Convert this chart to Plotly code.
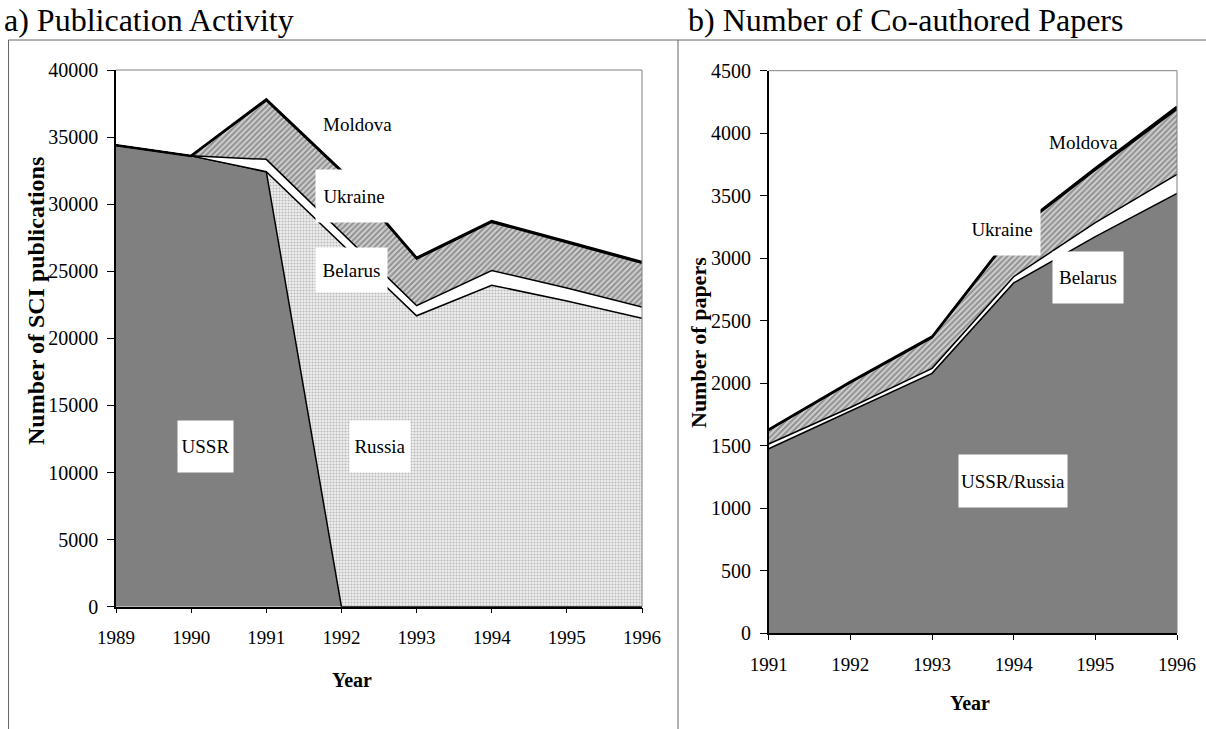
import plotly.graph_objects as go

W, H = 1206, 729

# ---- panel a) Publication Activity (stacked areas) ----
years_a = [1989, 1990, 1991, 1992, 1993, 1994, 1995, 1996]
ussr_a = [34400, 33600, 32420, 0, 0, 0, 0, 0]
russia_a = [0, 0, 0, 27060, 21680, 23960, 22790, 21500]
belarus_a = [0, 0, 920, 840, 760, 1100, 970, 830]
ukraine_a = [0, 0, 4370, 4500, 3460, 3580, 3360, 3260]
moldova_a = [0, 0, 100, 100, 100, 100, 100, 100]

# ---- panel b) Number of Co-authored Papers (stacked areas) ----
years_b = [1991, 1992, 1993, 1994, 1995, 1996]
russia_b = [1476, 1776, 2079, 2802, 3172, 3519]
belarus_b = [38, 30, 40, 50, 112, 152]
ukraine_b = [109, 197, 243, 349, 421, 521]
moldova_b = [5, 7, 10, 12, 15, 20]

FONT = "Liberation Serif"
GRAY = "#808080"

def px_x(p):
    return p / W

def px_y(p):
    return 1 - p / H

hatch = dict(shape="/", size=4, solidity=0.5, fgcolor="#505050", bgcolor="#d0d0d0")
dots = dict(shape=".", size=3, solidity=0.4, fgcolor="#858585", bgcolor="#efefef")

fig = go.Figure()

def add(x, y, group, xa, ya, fillcolor, pattern=None, lw=1.5, lc="black"):
    kw = dict(x=x, y=y, stackgroup=group, xaxis=xa, yaxis=ya, mode="lines",
              line=dict(color=lc, width=lw), fillcolor=fillcolor, hoverinfo="skip")
    if pattern:
        kw["fillpattern"] = pattern
    fig.add_trace(go.Scatter(**kw))

add(years_a, ussr_a, "a", "x", "y", GRAY)
add(years_a, russia_a, "a", "x", "y", "#efefef", dots)
add(years_a, belarus_a, "a", "x", "y", "white")
add(years_a, ukraine_a, "a", "x", "y", "#d0d0d0", hatch)
add(years_a, moldova_a, "a", "x", "y", "#2a0a2a", lw=2.5)

add(years_b, russia_b, "b", "x2", "y2", GRAY)
add(years_b, belarus_b, "b", "x2", "y2", "white")
add(years_b, ukraine_b, "b", "x2", "y2", "#d0d0d0", hatch)
add(years_b, moldova_b, "b", "x2", "y2", "black", lw=2.5)

common_x = dict(showline=True, linecolor="black", linewidth=1.5, ticks="outside",
                ticklen=5, tickcolor="black", tickwidth=1, showgrid=False,
                zeroline=False, tickfont=dict(family=FONT, size=19, color="black"),
                ticklabelstandoff=8, automargin=False)
common_y = dict(showline=True, linecolor="black", linewidth=1.5, ticks="outside",
                ticklen=7, tickcolor="black", tickwidth=1, showgrid=False,
                zeroline=False, tickfont=dict(family=FONT, size=20, color="black"),
                tickformat="d", ticklabelstandoff=5, automargin=False)

fig.update_layout(
    width=W, height=H, margin=dict(l=0, r=0, t=0, b=0, pad=0, autoexpand=False),
    paper_bgcolor="white", plot_bgcolor="white", showlegend=False,
    xaxis=dict(domain=[px_x(116), px_x(642)], range=[1989, 1996], anchor="y",
               tickvals=years_a, ticktext=[str(v) for v in years_a], **common_x),
    yaxis=dict(domain=[px_y(606.7), px_y(70)], range=[0, 40000], dtick=5000,
               anchor="x", **common_y),
    xaxis2=dict(domain=[px_x(768.7), px_x(1177)], range=[1991, 1996], anchor="y2",
                tickvals=years_b, ticktext=[str(v) for v in years_b], **common_x),
    yaxis2=dict(domain=[px_y(633.2), px_y(70.7)], range=[0, 4500], dtick=500,
                anchor="x2", **common_y),
)

shapes = []
# plot-area top and right borders (gray)
for xr, yr in (("x domain", "y domain"), ("x2 domain", "y2 domain")):
    shapes.append(dict(type="line", xref=xr, yref=yr, x0=0, x1=1, y0=1, y1=1,
                       line=dict(color=GRAY, width=1), layer="above"))
    shapes.append(dict(type="line", xref=xr, yref=yr, x0=1, x1=1, y0=0, y1=1,
                       line=dict(color=GRAY, width=1), layer="above"))
# panel frame
frame = dict(color="#666666", width=1)
shapes.append(dict(type="line", xref="paper", yref="paper", x0=px_x(8.5), x1=1,
                   y0=px_y(40), y1=px_y(40), line=frame))
shapes.append(dict(type="line", xref="paper", yref="paper", x0=px_x(8.5), x1=px_x(8.5),
                   y0=0, y1=px_y(40), line=frame))
shapes.append(dict(type="line", xref="paper", yref="paper", x0=px_x(678), x1=px_x(678),
                   y0=0, y1=px_y(40), line=frame))
fig.update_layout(shapes=shapes)

ann = []
def text(x, y, s, size, xref="paper", yref="paper", xanchor="center", yanchor="middle",
         bold=False, angle=0, bg=None, w=None, h=None):
    d = dict(x=x, y=y, xref=xref, yref=yref, text=f"<b>{s}</b>" if bold else s,
             showarrow=False, xanchor=xanchor, yanchor=yanchor, textangle=angle,
             font=dict(family=FONT, size=size, color="black"))
    if bg:
        d.update(bgcolor=bg, width=w, height=h, borderpad=0)
    ann.append(d)

text(px_x(2), px_y(20), "a) Publication Activity", 32, xanchor="left")
text(px_x(686), px_y(20), "b) Number of Co-authored Papers", 32, xanchor="left")
text(px_x(352), px_y(680), "Year", 20, bold=True)
text(px_x(970), px_y(703), "Year", 20, bold=True)
text(px_x(36), px_y(301), "Number of SCI publications", 24, bold=True, angle=-90)
text(px_x(698), px_y(343), "Number of papers", 22, bold=True, angle=-90)

# series labels, panel a
text(1990.19, 11945, "USSR", 19, "x", "y", bg="white", w=55, h=51)
text(1992.51, 11945, "Russia", 19, "x", "y", bg="white", w=60, h=51)
text(1992.13, 25090, "Belarus", 19, "x", "y", bg="white", w=71, h=44)
text(1992.17, 30600, "Ukraine", 19, "x", "y", bg="white", w=76, h=52)
text(1992.21, 35960, "Moldova", 19, "x", "y")
# series labels, panel b
text(1993.99, 1216, "USSR/Russia", 19, "x2", "y2", bg="white", w=108, h=52)
text(1994.91, 2846, "Belarus", 19, "x2", "y2", bg="white", w=70, h=51)
text(1993.857, 3234, "Ukraine", 19, "x2", "y2", bg="white", w=76, h=52)
text(1994.85, 3922, "Moldova", 19, "x2", "y2")

fig.update_layout(annotations=ann)
fig.write_html(
    "out.html",
    config={"displayModeBar": False},
    post_script="document.body.style.margin='0px';document.body.style.overflow='hidden';",
)
